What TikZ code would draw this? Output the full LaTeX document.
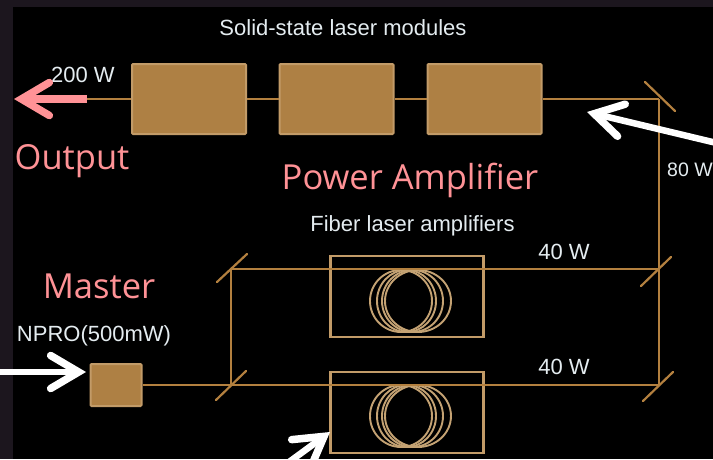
\documentclass[tikz,border=0pt]{standalone}
\usepackage{fontspec}
\setmainfont{Liberation Sans}
\newfontfamily\titlefont{Open Sans}
\usetikzlibrary{arrows.meta}
\definecolor{backdrop}{HTML}{1C161E}
\definecolor{beamcol}{HTML}{B3803F}
\definecolor{modfill}{HTML}{AE8044}
\definecolor{modedge}{HTML}{C29B68}
\definecolor{coilcol}{HTML}{C4A273}
\definecolor{labelcol}{HTML}{E4ECF0}
\definecolor{titlecol}{HTML}{FF9296}
\tikzset{
    beam/.style={draw=beamcol,line width=2.1pt},
    mirror/.style={draw=beamcol,line width=2.2pt,line cap=round},
    module/.style={draw=modedge,fill=modfill,line width=2pt,rounded corners=1pt,inner sep=0pt},
    fiberbox/.style={draw=modedge,line width=2.6pt,minimum width=153pt,minimum height=81pt,inner sep=0pt},
    coil/.style={draw=coilcol,line width=1.9pt},
    powerlabel/.style={text=labelcol,font=\fontsize{22}{24}\selectfont,inner sep=0pt},
    titlelabel/.style={text=titlecol,font=\titlefont\fontsize{34.5}{40}\selectfont,inner sep=0pt},
    pointer/.style={draw=white,line width=6.5pt,-{Straight Barb[length=28pt,width=33pt,line width=7.5pt,line cap=round]}},
}
\begin{document}
\begin{tikzpicture}[x=1pt,y=-1pt]
            \useasboundingbox (0,0) rectangle (713,459);
            \clip (0,0) rectangle (713,459);
            % ground
            \fill[backdrop] (0,0) rectangle (713,459);
            \fill[black] (13,7) rectangle (713,459);
            % turning points
            \coordinate (mirrorTop) at (659,99);
            \coordinate (mirrorUpper) at (659,269);
            \coordinate (mirrorLower) at (659,385);
            \coordinate (splitUpper) at (231,269);
            \coordinate (splitLower) at (231,385);
            \coordinate (outEnd) at (87,99);
            \coordinate (outTip) at (14,99);
            % modules
            \node[module,minimum width=114pt,minimum height=70pt] (solidA) at (189,99) {};
            \node[module,minimum width=114pt,minimum height=70pt] (solidB) at (336.5,99) {};
            \node[module,minimum width=114pt,minimum height=70pt] (solidC) at (484.5,99) {};
            \node[module,minimum width=51pt,minimum height=42pt] (npro) at (116,385) {};
            \node[fiberbox] (fiberUpper) at (407,296.5) {};
            \node[fiberbox] (fiberLower) at (407,412.5) {};
            % coils
            \foreach \y in {301,416}{
                \foreach \cx/\rx in {401/31,406.5/29.5,412.5/30.5,418/33}{
                    \draw[coil] (\cx,\y) ellipse ({\rx} and 31);
                }
            }
            % beams
            \draw[beam] (outEnd) -- (solidA);
            \draw[beam] (solidA) -- (solidB);
            \draw[beam] (solidB) -- (solidC);
            \draw[beam] (solidC) -- (mirrorTop);
            \draw[beam] (mirrorTop) -- (mirrorLower);
            \draw[beam] (npro) -- (splitLower);
            \draw[beam] (splitLower) -- (mirrorLower);
            \draw[beam] (splitLower) -- (splitUpper);
            \draw[beam] (splitUpper) -- (mirrorUpper);
            % mirrors
            \draw[mirror] (645,82) -- (675,111);
            \draw[mirror] (641,286) -- (671,257);
            \draw[mirror] (643,401) -- (673,372);
            \draw[mirror] (217,282) -- (247,254);
            \draw[mirror] (216,400) -- (246,371);
            % labels
            \node[powerlabel] (solidTitle) at (343,28) {Solid-state laser modules};
            \node[powerlabel] (fiberTitle) at (412.5,226) {Fiber laser amplifiers};
            \node[powerlabel,anchor=west] (outPower) at (51,75) {200 W};
            \node[powerlabel,anchor=west,font=\fontsize{19.5}{24}\selectfont] (topPower) at (667,170) {80 W};
            \node[powerlabel] (upperPower) at (564,251.5) {40 W};
            \node[powerlabel] (lowerPower) at (564,367) {40 W};
            \node[powerlabel] (nproLabel) at (94,336) {NPRO(500mW)};
            \node[titlelabel] (outLabel) at (72,161) {Output};
            \node[titlelabel] (powerLabel) at (410,180) {Power Amplifier};
            \node[titlelabel] (masterLabel) at (99,286) {Master};
            % pointers
            \coordinate (pointFromRight) at (725,145);
            \coordinate (pointToBeam) at (587,112);
            \coordinate (pointFromLeft) at (-5,372);
            \coordinate (pointToNpro) at (86,372);
            \coordinate (pointFromBottom) at (285,465);
            \coordinate (pointToFiber) at (330,432);
            \draw[pointer] (pointFromRight) -- (pointToBeam);
            \draw[pointer] (pointFromLeft) -- (pointToNpro);
            \draw[pointer] (pointFromBottom) -- (pointToFiber);
            \draw[pointer,draw=titlecol,line width=8pt] (outEnd) -- (outTip);
        \end{tikzpicture}
\end{document}
